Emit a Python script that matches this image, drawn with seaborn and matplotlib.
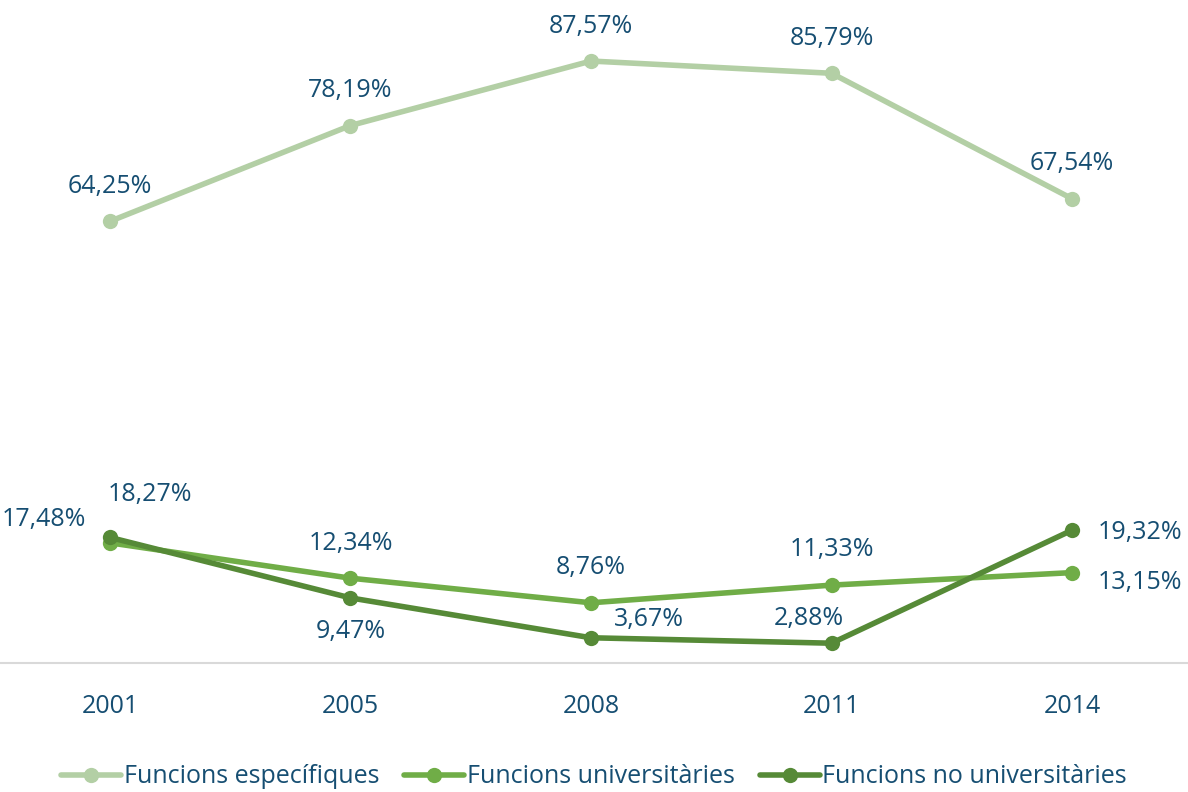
import numpy as np
import pandas as pd
import matplotlib.pyplot as plt
import seaborn as sns

years = ["2001", "2005", "2008", "2011", "2014"]
especifiques = [64.25, 78.19, 87.57, 85.79, 67.54]
universitaries = [17.48, 12.34, 8.76, 11.33, 13.15]
no_universitaries = [18.27, 9.47, 3.67, 2.88, 19.32]
series_names = ["Funcions específiques", "Funcions universitàries", "Funcions no universitàries"]

colors = ["#B3CFA5", "#70AD47", "#568A37"]
txt = "#164E72"

# label offsets in pixels (dx, dy) per point
offsets = [
    [(0, 35)] * 5,
    [(-66, 23), (0, 35), (0, 35), (0, 36), (68, -10)],
    [(40, 43), (0, -34), (58, 18), (-23, 25), (68, -2)],
]

rows = []
for name, vals in zip(series_names, [especifiques, universitaries, no_universitaries]):
    for y, v in zip(years, vals):
        rows.append({"any": y, "valor": v, "serie": name})
df = pd.DataFrame(rows)

sns.set_style("white")
plt.rcParams['font.family'] = ['Open Sans', 'DejaVu Sans']

fig = plt.figure(figsize=(11.88, 7.92), dpi=100)
ax = fig.add_axes([0, 1 - 663 / 792, 1, 663 / 792])

sns.lineplot(data=df, x="any", y="valor", hue="serie", palette=colors,
             marker="o", markersize=11, markeredgewidth=0, linewidth=4,
             ax=ax, legend=False, sort=False)

for name, col, offs in zip(series_names, colors, offsets):
    sub = df[df["serie"] == name].reset_index(drop=True)
    for i, r in sub.iterrows():
        ax.annotate(f"{r['valor']:.2f}%".replace(".", ","), (i, r["valor"]),
                    xytext=offs[i], textcoords="offset pixels",
                    ha="center", va="center", fontsize=18, color=txt)

ax.set_xlim(-0.457, 4.482)
ax.set_ylim(0, 96.45)
for s in ["top", "right", "left"]:
    ax.spines[s].set_visible(False)
ax.spines["bottom"].set_color("#D9D9D9")
ax.spines["bottom"].set_linewidth(1.5)
ax.set_yticks([])
ax.set_xlabel("")
ax.set_ylabel("")
ax.tick_params(axis="x", length=0, pad=22, labelsize=18, labelcolor=txt)

handles = [plt.Line2D([], [], color=c, lw=4, marker="o", markersize=11, markeredgewidth=0)
           for c in colors]
leg = fig.legend(handles, series_names, loc="center", bbox_to_anchor=(0.5, 0.019),
                 ncol=3, frameon=False, fontsize=18, handlelength=2.4,
                 handletextpad=0.1, columnspacing=1.0)
for t in leg.get_texts():
    t.set_color(txt)

fig.savefig("out.png", dpi=100)
